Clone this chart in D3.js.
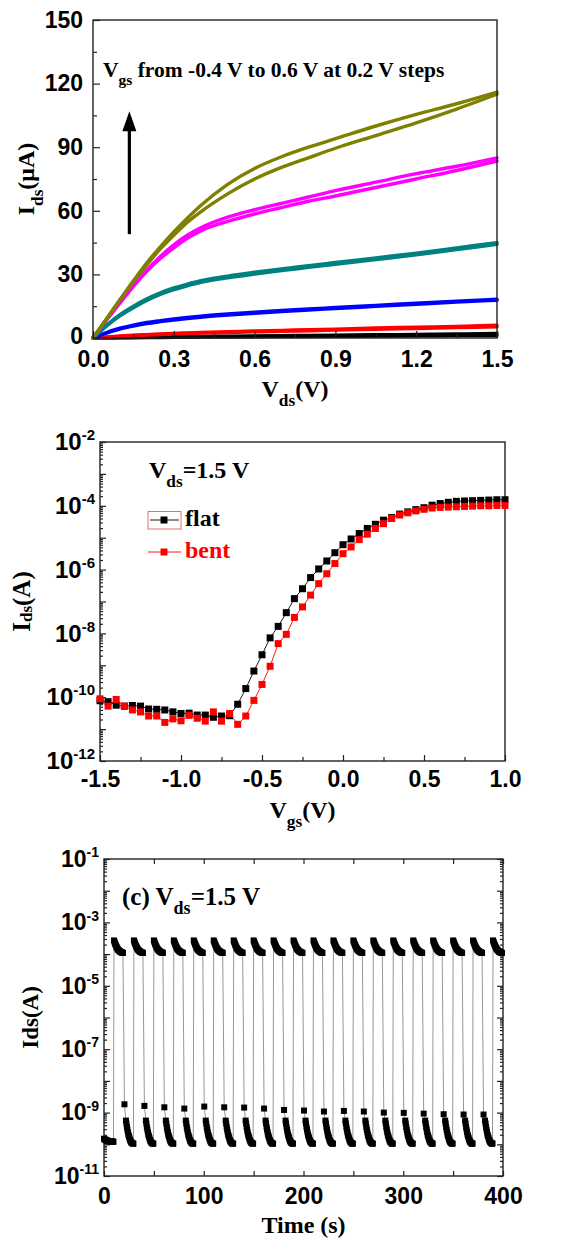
<!DOCTYPE html>
<html><head><meta charset="utf-8">
<script src="https://cdn.jsdelivr.net/npm/d3@7"></script>
<style>body{margin:0;background:#fff}svg{display:block}</style>
</head><body>
<script>
// ---------- Panel (a) data : Ids (uA) vs Vds (V), forward / reverse sweeps ----------
const vds = [0,0.05,0.1,0.15,0.2,0.25,0.3,0.35,0.4,0.5,0.6,0.7,0.8,0.9,1.05,1.2,1.35,1.5];
const vgsLevels = ["-0.4 V","-0.2 V","0.0 V","0.2 V","0.4 V","0.6 V"];
const levelColors = ["#000000","#ff0000","#0000ff","#008080","#ff00ff","#808000"];
const ids_m04_fwd = [0,0.1,0.2,0.3,0.4,0.5,0.6,0.7,0.75,0.9,1.0,1.1,1.2,1.3,1.5,1.7,1.9,2.2];
const ids_m04_rev = [0,0.05,0.1,0.15,0.2,0.25,0.3,0.35,0.4,0.5,0.6,0.65,0.7,0.8,0.9,1.0,1.1,1.2];
const ids_m02_fwd = [0,0.5,0.9,1.3,1.6,1.9,2.2,2.4,2.6,3.0,3.3,3.6,3.9,4.2,4.7,5.1,5.5,6.0];
const ids_m02_rev = [0,0.4,0.8,1.1,1.4,1.6,1.9,2.1,2.3,2.6,2.9,3.2,3.4,3.7,4.1,4.5,4.9,5.3];
const ids_00_fwd  = [0,2.6,4.6,6.1,7.3,8.2,9.0,9.7,10.3,11.3,12.2,13.0,13.7,14.4,15.4,16.4,17.4,18.3];
const ids_00_rev  = [0,2.3,4.2,5.6,6.8,7.7,8.5,9.2,9.8,10.8,11.7,12.5,13.2,13.9,14.9,15.9,16.9,17.8];
const ids_02_fwd  = [0,6,11,15,18.5,21.3,23.6,25.4,27,29.2,31,32.6,34.1,35.6,37.8,40,42.5,45];
const ids_02_rev  = [0,5.6,10.4,14.3,17.7,20.5,22.8,24.6,26.2,28.4,30.2,31.8,33.3,34.8,37,39.2,41.7,44.2];
const ids_04_fwd  = [0,8.5,16.5,24.5,32,38.5,44,48.5,52,57,60.5,63.5,66.5,69.5,73.5,77.5,81,85];
const ids_04_rev  = [0,8.5,16.5,24.5,31.5,37.5,42.5,47,50.5,55,58.5,61.5,64.5,67,71,75,79,83.5];
const ids_06_fwd  = [0,9,18,27,35.5,43,50,56.5,62.5,72.5,80,85.5,90,94,100,105.5,110.5,116];
const ids_06_rev  = [0,9,18,26.5,34.5,42,48.5,54.5,59.5,68,75,80.5,85,89.5,95.5,101.5,108,115];
const xTicksA = [0,0.3,0.6,0.9,1.2,1.5];
const yTicksA = [0,30,60,90,120,150];

// ---------- Panel (b) data : transfer curves, Vds = 1.5 V ----------
const vgs = [-1.5,-1.45,-1.4,-1.35,-1.3,-1.25,-1.2,-1.15,-1.1,-1.05,-1.0,-0.95,-0.9,-0.85,-0.8,-0.75,-0.7,-0.65,-0.6,-0.55,-0.5,-0.45,-0.4,-0.35,-0.3,-0.25,-0.2,-0.15,-0.1,-0.05,0,0.05,0.1,0.15,0.2,0.25,0.3,0.35,0.4,0.45,0.5,0.55,0.6,0.65,0.7,0.75,0.8,0.85,0.9,0.95,1.0];
const logIdsFlat = [-10.11,-10.14,-10.25,-10.28,-10.26,-10.28,-10.37,-10.38,-10.40,-10.46,-10.51,-10.50,-10.56,-10.56,-10.63,-10.59,-10.58,-10.22,-9.73,-9.18,-8.67,-8.14,-7.78,-7.35,-6.91,-6.60,-6.25,-5.98,-5.73,-5.47,-5.22,-5.04,-4.87,-4.71,-4.58,-4.45,-4.37,-4.26,-4.19,-4.12,-4.06,-3.98,-3.93,-3.89,-3.86,-3.85,-3.84,-3.83,-3.82,-3.81,-3.81];
const logIdsBent = [-10.05,-10.28,-10.07,-10.28,-10.40,-10.46,-10.59,-10.59,-10.79,-10.68,-10.74,-10.57,-10.66,-10.75,-10.46,-10.75,-10.51,-10.85,-10.59,-10.10,-9.60,-9.03,-8.32,-8.03,-7.50,-7.17,-6.80,-6.44,-6.13,-5.81,-5.50,-5.29,-5.06,-4.89,-4.71,-4.56,-4.40,-4.29,-4.22,-4.16,-4.11,-4.07,-4.05,-4.04,-4.03,-4.02,-4.01,-4.00,-4.00,-3.99,-3.99];
const xTicksB = [-1.5,-1.0,-0.5,0,0.5,1.0];
const yExpB = [-12,-10,-8,-6,-4,-2];

// ---------- Panel (c) data : switching, Vds = 1.5 V ----------
const initOffTimes = [0,0.5,1,1.5,2,2.5,3,3.5,4,4.5,5,5.5,6,6.5,7,7.5,8,8.5,9,9.5];
const initOffIds = [1.5e-10,1.45e-10,1.4e-10,1.38e-10,1.35e-10,1.33e-10,1.3e-10,1.3e-10,1.28e-10,1.27e-10,1.26e-10,1.25e-10,1.25e-10,1.24e-10,1.23e-10,1.23e-10,1.22e-10,1.22e-10,1.21e-10,1.2e-10];
const onSwitchTimes = [10,30,50,70,90,110,130,150,170,190,210,230,250,270,290,310,330,350,370,390];
const onOffsets = [0,0.5,1,1.5,2,2.5,3,3.5,4,4.5,5,5.5,6,6.5,7,7.5,8,8.5,9];
const onIds = [2.7e-4,2.45e-4,2.2e-4,2.0e-4,1.85e-4,1.7e-4,1.58e-4,1.48e-4,1.4e-4,1.34e-4,1.29e-4,1.25e-4,1.21e-4,1.18e-4,1.16e-4,1.14e-4,1.12e-4,1.1e-4,1.09e-4];
const offPeakOffset = 10.5;
const offPeakIds = [1.83e-9,1.63e-9,1.47e-9,1.34e-9,1.55e-9,1.47e-9,1.44e-9,1.34e-9,1.21e-9,1.16e-9,1.08e-9,1.13e-9,1.08e-9,1.0e-9,9.8e-10,9.3e-10,8.9e-10,8.7e-10,8.7e-10];
const offOffsets = [12,12.5,13,13.5,14,14.5,15,15.5,16,16.5,17,17.5,18,18.5,19,19.5];
const offIds = [5.6e-10,4.5e-10,3.5e-10,2.9e-10,2.4e-10,2.0e-10,1.8e-10,1.6e-10,1.4e-10,1.3e-10,1.2e-10,1.15e-10,1.1e-10,1.07e-10,1.05e-10,1.05e-10];
const xTicksC = [0,100,200,300,400];
const yExpC = [-11,-9,-7,-5,-3,-1];

// ---------- drawing ----------
const SANS = "'Liberation Sans', Arial, sans-serif";
const SERIF = "'Liberation Serif', 'Times New Roman', serif";
const svg = d3.select("body").append("svg").attr("width",564).attr("height",1242);

function rich(g, x, y, parts, size, opts={}) {
  const t = g.append("text").attr("x",x).attr("y",y)
    .attr("font-family",SERIF).attr("font-weight","bold").attr("font-size",size)
    .attr("fill",opts.fill||"#000").attr("text-anchor",opts.anchor||"start");
  if (opts.rotate) t.attr("transform",`rotate(-90,${x},${y})`);
  let shift = 0;
  parts.forEach(p=>{
    const s = t.append("tspan").text(p.t);
    const target = p.sub ? (p.subShift||size*0.32) : 0;
    if (target!==shift) { s.attr("dy", target-shift); shift = target; }
    if (p.sub) s.attr("font-size", p.size||size*0.72);
  });
  return t;
}
function supLabels(sel, size, supSize) {
  sel.selectAll(".tick text").each(function(d){
    const e = Math.round(Math.log10(d));
    const t = d3.select(this); t.text(null);
    t.append("tspan").text("10");
    t.append("tspan").attr("dy",-size*0.42).attr("font-size",supSize).text(String(e));
  });
}
function styleAxis(g, size) {
  g.select(".domain").remove();
  g.selectAll(".tick line").attr("stroke","#222").attr("stroke-width",1.2);
  g.selectAll(".tick text").attr("font-family",SANS).attr("font-weight","bold")
    .attr("font-size",size).attr("fill","#000");
}

// ===== Panel A =====
{
  const P = {l:93, r:497, t:20, b:338};
  const x = d3.scaleLinear().domain([0,1.5]).range([P.l,P.r]);
  const y = d3.scaleLinear().domain([0,150]).range([P.b,P.t]);
  const g = svg.append("g");
  const series = [
    [ids_m04_fwd, ids_m04_rev],[ids_m02_fwd, ids_m02_rev],[ids_00_fwd, ids_00_rev],
    [ids_02_fwd, ids_02_rev],[ids_04_fwd, ids_04_rev],[ids_06_fwd, ids_06_rev]];
  const line = d3.line().x((d,i)=>x(vds[i])).y(d=>y(d)).curve(d3.curveMonotoneX);
  series.forEach((pair,k)=>pair.forEach(vals=>{
    g.append("path").attr("d",line(vals)).attr("fill","none")
     .attr("stroke",levelColors[k]).attr("stroke-width",3.4).attr("stroke-linecap","round");
  }));
  g.append("g").attr("transform",`translate(${P.l},0)`)
    .call(d3.axisLeft(y).tickValues([15,45,75,105,135]).tickSize(-4).tickFormat(""))
    .call(a=>styleAxis(a,20));
  g.append("g").attr("transform",`translate(${P.l},0)`)
    .call(d3.axisLeft(y).tickValues(yTicksA).tickSize(-7).tickPadding(10).tickFormat(d3.format("d")))
    .call(a=>styleAxis(a,23))
    .call(a=>a.selectAll(".tick text").filter(d=>d===0).attr("dy","0.22em"));
  g.append("g").attr("transform",`translate(0,${P.b})`)
    .call(d3.axisBottom(x).tickValues([0.15,0.45,0.75,1.05,1.35]).tickSize(-4).tickFormat(""))
    .call(a=>styleAxis(a,20));
  g.append("g").attr("transform",`translate(0,${P.b})`)
    .call(d3.axisBottom(x).tickValues(xTicksA).tickSize(-7).tickPadding(13).tickFormat(d=>d.toFixed(1)))
    .call(a=>styleAxis(a,23));
  g.append("rect").attr("x",P.l).attr("y",P.t).attr("width",P.r-P.l).attr("height",P.b-P.t)
    .attr("fill","none").attr("stroke","#222").attr("stroke-width",1.4);
  const ax = x(0.135);
  g.append("line").attr("x1",ax).attr("x2",ax).attr("y1",y(49)).attr("y2",y(101))
    .attr("stroke","#000").attr("stroke-width",3.2);
  const ay = y(107);
  g.append("path").attr("d",`M${ax},${ay} L${ax-7},${ay+20} L${ax+7},${ay+20} Z`).attr("fill","#000");
  rich(g, 103, 77, [{t:"V"},{t:"gs",sub:true,subShift:8},{t:" from -0.4 V to 0.6 V at 0.2 V steps"}], 21.5);
  rich(g, (P.l+P.r)/2, 397, [{t:"V"},{t:"ds",sub:true,subShift:9},{t:"(V)"}], 24, {anchor:"middle"});
  rich(g, 34, (P.t+P.b)/2, [{t:"I"},{t:"ds",sub:true,subShift:9},{t:"(\u03bcA)"}], 24, {anchor:"middle", rotate:true});
}

// ===== Panel B =====
{
  const P = {l:100, r:505, t:442, b:761};
  const x = d3.scaleLinear().domain([-1.5,1.0]).range([P.l,P.r]);
  const y = d3.scaleLog().domain([1e-12,1e-2]).range([P.b,P.t]);
  const g = svg.append("g");
  const minors = [];
  for (let e=-12;e<-2;e++) for (let m=2;m<10;m++) minors.push(m*Math.pow(10,e));
  const majors = []; for (let e=-12;e<=-2;e++) majors.push(Math.pow(10,e));
  g.append("g").attr("transform",`translate(${P.l},0)`)
    .call(d3.axisLeft(y).tickValues(minors).tickSize(-3).tickFormat(""))
    .call(a=>styleAxis(a,20));
  g.append("g").attr("transform",`translate(${P.l},0)`)
    .call(d3.axisLeft(y).tickValues(majors).tickSize(-6).tickFormat(""))
    .call(a=>styleAxis(a,20));
  g.append("g").attr("transform",`translate(${P.l},0)`)
    .call(d3.axisLeft(y).tickValues(yExpB.map(e=>Math.pow(10,e))).tickSize(0).tickPadding(5))
    .call(a=>styleAxis(a,24)).call(a=>supLabels(a,24,15));
  g.append("g").attr("transform",`translate(0,${P.b})`)
    .call(d3.axisBottom(x).tickValues([-1.25,-0.75,-0.25,0.25,0.75]).tickSize(-4).tickFormat(""))
    .call(a=>styleAxis(a,20));
  g.append("g").attr("transform",`translate(0,${P.b})`)
    .call(d3.axisBottom(x).tickValues(xTicksB).tickSize(-6).tickPadding(10).tickFormat(d=>d.toFixed(1)))
    .call(a=>styleAxis(a,23));
  g.append("rect").attr("x",P.l).attr("y",P.t).attr("width",P.r-P.l).attr("height",P.b-P.t)
    .attr("fill","none").attr("stroke","#222").attr("stroke-width",1.4);
  const sets = [{v:logIdsFlat,c:"#000"},{v:logIdsBent,c:"#ff0000"}];
  sets.forEach(s=>{
    const pts = s.v.map((lv,i)=>[x(vgs[i]), y(Math.pow(10,lv))]);
    g.append("path").attr("d",d3.line()(pts)).attr("fill","none").attr("stroke",s.c).attr("stroke-width",0.9);
  });
  sets.forEach(s=>{
    g.append("g").selectAll("rect").data(s.v).join("rect")
      .attr("x",(d,i)=>x(vgs[i])-3.5).attr("y",d=>y(Math.pow(10,d))-3.5)
      .attr("width",7).attr("height",7).attr("fill",s.c);
  });
  rich(g, 149, 478, [{t:"V"},{t:"ds",sub:true,subShift:9},{t:"=1.5 V"}], 24);
  g.append("rect").attr("x",148).attr("y",511.5).attr("width",33).attr("height",17.5)
    .attr("fill","none").attr("stroke","#e07070").attr("stroke-width",1);
  g.append("line").attr("x1",150).attr("x2",179).attr("y1",520).attr("y2",520).attr("stroke","#000").attr("stroke-width",0.9);
  g.append("rect").attr("x",160.5).attr("y",516.5).attr("width",7).attr("height",7).attr("fill","#000");
  g.append("text").attr("x",185).attr("y",526).attr("font-family",SERIF).attr("font-weight","bold")
    .attr("font-size",24).text("flat");
  g.append("line").attr("x1",148).attr("x2",181).attr("y1",552).attr("y2",552).attr("stroke","#ff0000").attr("stroke-width",0.9);
  g.append("rect").attr("x",160.5).attr("y",548.5).attr("width",7).attr("height",7).attr("fill","#ff0000");
  g.append("text").attr("x",185).attr("y",558).attr("font-family",SERIF).attr("font-weight","bold")
    .attr("font-size",24).attr("fill","#ff0000").text("bent");
  rich(g, (P.l+P.r)/2, 818, [{t:"V"},{t:"gs",sub:true,subShift:9},{t:"(V)"}], 24, {anchor:"middle"});
  rich(g, 30, (P.t+P.b)/2, [{t:"I"},{t:"ds",sub:true,subShift:2,size:17},{t:"(A)"}], 25, {anchor:"middle", rotate:true});
}

// ===== Panel C =====
{
  const P = {l:104, r:503, t:859, b:1176};
  const x = d3.scaleLinear().domain([0,400]).range([P.l,P.r]);
  const y = d3.scaleLog().domain([1e-11,1e-1]).range([P.b,P.t]);
  const g = svg.append("g");
  const minors = [];
  for (let e=-11;e<-1;e++) for (let m=2;m<10;m++) minors.push(m*Math.pow(10,e));
  const majors = []; for (let e=-11;e<=-1;e++) majors.push(Math.pow(10,e));
  [[P.l,d3.axisLeft],[P.r,d3.axisRight]].forEach(([px,ax])=>{
    g.append("g").attr("transform",`translate(${px},0)`)
      .call(ax(y).tickValues(minors).tickSize(-3).tickFormat("")).call(a=>styleAxis(a,20));
    g.append("g").attr("transform",`translate(${px},0)`)
      .call(ax(y).tickValues(majors).tickSize(-6).tickFormat("")).call(a=>styleAxis(a,20));
  });
  g.append("g").attr("transform",`translate(${P.l},0)`)
    .call(d3.axisLeft(y).tickValues(yExpC.map(e=>Math.pow(10,e))).tickSize(0).tickPadding(5))
    .call(a=>styleAxis(a,23)).call(a=>supLabels(a,23,14));
  [[P.b,d3.axisBottom],[P.t,d3.axisTop]].forEach(([py,ax])=>{
    g.append("g").attr("transform",`translate(0,${py})`)
      .call(ax(x).tickValues([0,50,100,150,200,250,300,350,400]).tickSize(-5).tickFormat("")).call(a=>styleAxis(a,20));
  });
  g.append("g").attr("transform",`translate(0,${P.b})`)
    .call(d3.axisBottom(x).tickValues(xTicksC).tickSize(0).tickPadding(12).tickFormat(d3.format("d")))
    .call(a=>styleAxis(a,23));
  g.append("rect").attr("x",P.l).attr("y",P.t).attr("width",P.r-P.l).attr("height",P.b-P.t)
    .attr("fill","none").attr("stroke","#222").attr("stroke-width",1.4);
  const pts = [];
  initOffTimes.forEach((t,i)=>pts.push([t, initOffIds[i]]));
  onSwitchTimes.forEach((T,c)=>{
    onOffsets.forEach((o,i)=>pts.push([T+o, onIds[i]]));
    if (c < offPeakIds.length) {
      pts.push([T+offPeakOffset, offPeakIds[c]]);
      offOffsets.forEach((o,i)=>pts.push([T+o, offIds[i]]));
    }
  });
  g.append("path").attr("d",d3.line().x(d=>x(d[0])).y(d=>y(d[1]))(pts))
    .attr("fill","none").attr("stroke","#8a8a8a").attr("stroke-width",0.9);
  g.append("g").selectAll("rect").data(pts).join("rect")
    .attr("x",d=>x(d[0])-3).attr("y",d=>y(d[1])-3).attr("width",6).attr("height",6).attr("fill","#000");
  rich(g, 122, 905, [{t:"(c) V"},{t:"ds",sub:true,subShift:9},{t:"=1.5 V"}], 25);
  g.append("text").attr("x",(P.l+P.r)/2).attr("y",1233).attr("text-anchor","middle")
    .attr("font-family",SERIF).attr("font-weight","bold").attr("font-size",24).text("Time (s)");
  g.append("text").attr("transform",`rotate(-90,38,${(P.t+P.b)/2})`).attr("x",38).attr("y",(P.t+P.b)/2)
    .attr("text-anchor","middle").attr("font-family",SERIF).attr("font-weight","bold").attr("font-size",23).text("Ids(A)");
}
</script>
</body></html>
